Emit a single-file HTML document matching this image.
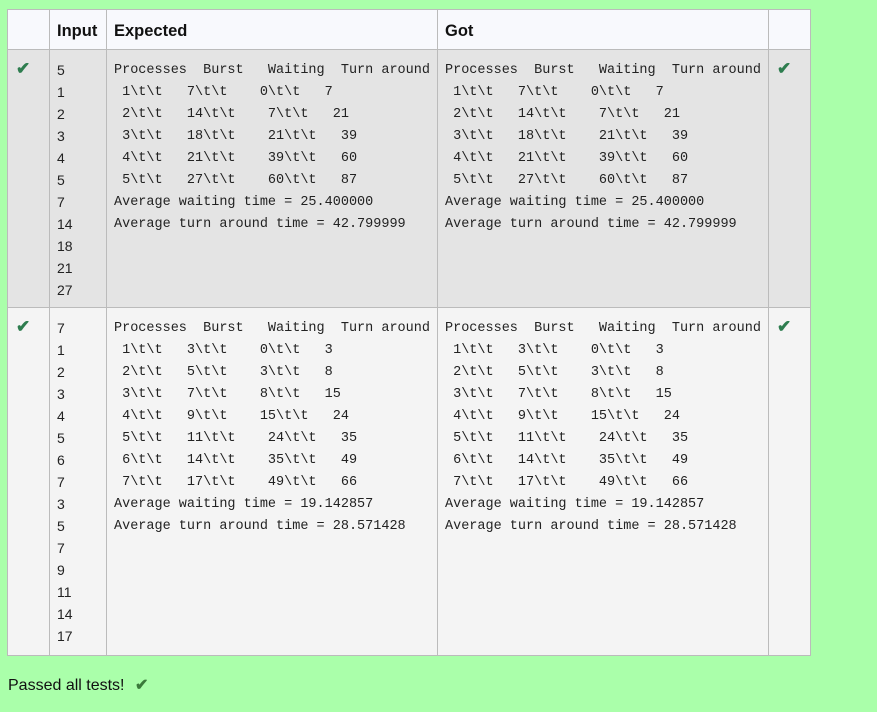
<!DOCTYPE html>
<html><head><meta charset="utf-8"><style>
body{margin:0;width:877px;height:712px;background:#aaffaa;position:relative;overflow:hidden;font-family:"Liberation Sans",sans-serif;}
pre{position:absolute;margin:0;font-family:"Liberation Mono",monospace;font-size:13.5px;line-height:22px;color:#222;}
.in{position:absolute;margin:0;font-size:14px;line-height:22px;color:#222;}
.h{position:absolute;font-weight:bold;font-size:16.5px;top:22px;color:#111;}
.ck{position:absolute;color:#2e7d4f;font-size:17px;font-weight:bold;}
</style></head><body>
<div style="position:absolute;left:7px;top:9px;width:804px;height:647px;border:1px solid #bbb;box-sizing:border-box;background:#f4f4f4"></div>
<div style="position:absolute;left:8px;top:10px;width:802px;height:39px;background:#f8f9fd;border-bottom:1px solid #bbb"></div>
<div style="position:absolute;left:8px;top:50px;width:802px;height:257px;background:#e4e4e4;border-bottom:1px solid #bbb"></div>
<div style="position:absolute;left:49px;top:10px;width:1px;height:645px;background:#bbb"></div>
<div style="position:absolute;left:106px;top:10px;width:1px;height:645px;background:#bbb"></div>
<div style="position:absolute;left:437px;top:10px;width:1px;height:645px;background:#bbb"></div>
<div style="position:absolute;left:768px;top:10px;width:1px;height:645px;background:#bbb"></div>
<div class="h" style="left:57px">Input</div>
<div class="h" style="left:114px">Expected</div>
<div class="h" style="left:445px">Got</div>
<div class="ck" style="left:16px;top:59px">✔</div>
<div class="ck" style="left:777px;top:59px">✔</div>
<div class="ck" style="left:16px;top:317px">✔</div>
<div class="ck" style="left:777px;top:317px">✔</div>
<pre class="in" style="left:57px;top:59px;font-family:'Liberation Sans',sans-serif">5
1
2
3
4
5
7
14
18
21
27</pre>
<pre style="left:114px;top:60px">Processes  Burst   Waiting  Turn around
 1\t\t   7\t\t    0\t\t   7
 2\t\t   14\t\t    7\t\t   21
 3\t\t   18\t\t    21\t\t   39
 4\t\t   21\t\t    39\t\t   60
 5\t\t   27\t\t    60\t\t   87
Average waiting time = 25.400000
Average turn around time = 42.799999</pre>
<pre style="left:445px;top:60px">Processes  Burst   Waiting  Turn around
 1\t\t   7\t\t    0\t\t   7
 2\t\t   14\t\t    7\t\t   21
 3\t\t   18\t\t    21\t\t   39
 4\t\t   21\t\t    39\t\t   60
 5\t\t   27\t\t    60\t\t   87
Average waiting time = 25.400000
Average turn around time = 42.799999</pre>
<pre class="in" style="left:57px;top:317px;font-family:'Liberation Sans',sans-serif">7
1
2
3
4
5
6
7
3
5
7
9
11
14
17</pre>
<pre style="left:114px;top:318px">Processes  Burst   Waiting  Turn around
 1\t\t   3\t\t    0\t\t   3
 2\t\t   5\t\t    3\t\t   8
 3\t\t   7\t\t    8\t\t   15
 4\t\t   9\t\t    15\t\t   24
 5\t\t   11\t\t    24\t\t   35
 6\t\t   14\t\t    35\t\t   49
 7\t\t   17\t\t    49\t\t   66
Average waiting time = 19.142857
Average turn around time = 28.571428</pre>
<pre style="left:445px;top:318px">Processes  Burst   Waiting  Turn around
 1\t\t   3\t\t    0\t\t   3
 2\t\t   5\t\t    3\t\t   8
 3\t\t   7\t\t    8\t\t   15
 4\t\t   9\t\t    15\t\t   24
 5\t\t   11\t\t    24\t\t   35
 6\t\t   14\t\t    35\t\t   49
 7\t\t   17\t\t    49\t\t   66
Average waiting time = 19.142857
Average turn around time = 28.571428</pre>
<div style="position:absolute;left:8px;top:675px;font-size:16px;color:#111">Passed all tests! <span style="color:#3a7a3a;font-weight:bold;margin-left:6px">✔</span></div>
</body></html>
